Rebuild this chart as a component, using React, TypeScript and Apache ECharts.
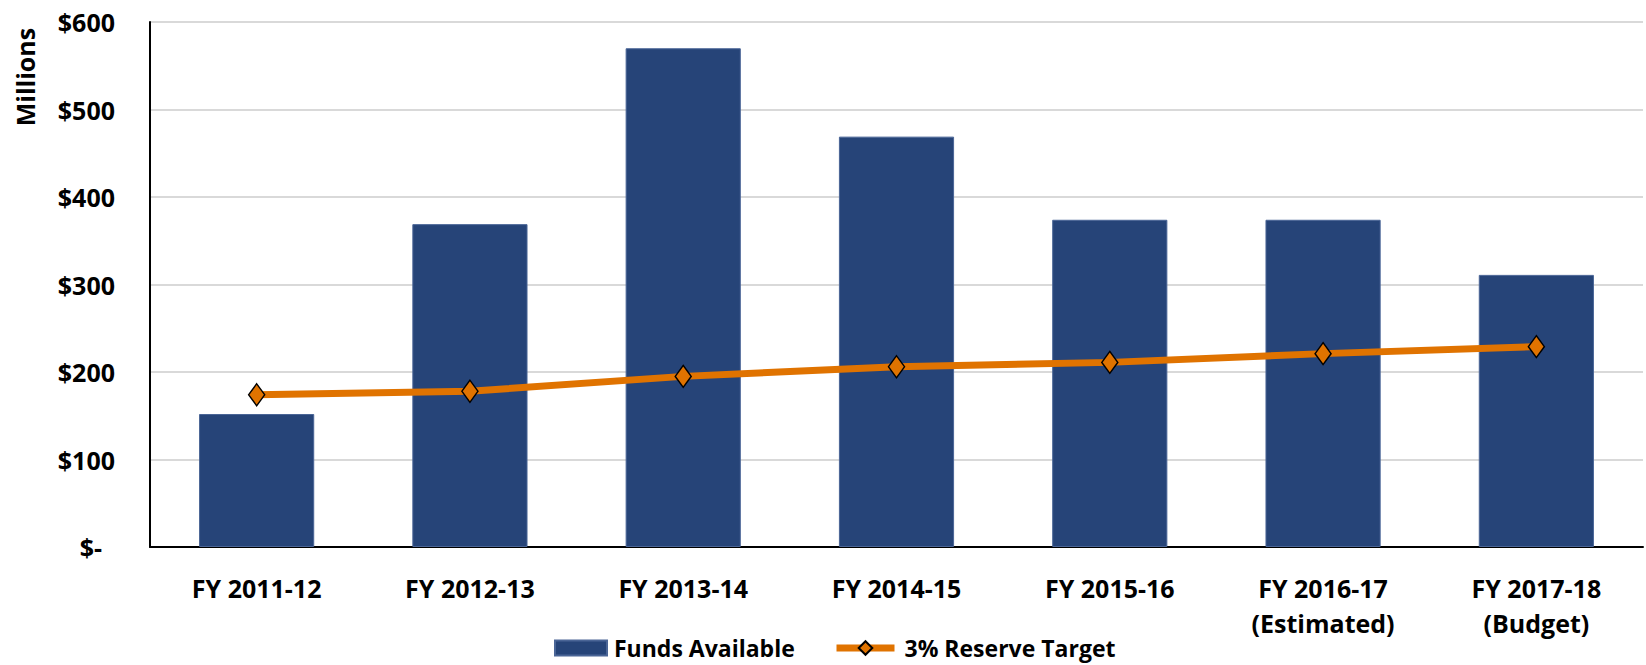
import React, { useEffect, useRef } from "react";
import * as echarts from "echarts";

const categories = [
  "FY 2011-12",
  "FY 2012-13",
  "FY 2013-14",
  "FY 2014-15",
  "FY 2015-16",
  "FY 2016-17\n(Estimated)",
  "FY 2017-18\n(Budget)",
];
const fundsAvailable = [152, 369, 570, 469, 374, 374, 311];
const reserveTarget = [174, 178, 195, 206, 211, 221, 229];
const yMin = 0;
const yMax = 600;
const yStep = 100;

const FONT = "'Open Sans', 'Liberation Sans', sans-serif";

const legendText = { fontSize: 23, fontWeight: "bold", color: "#000", fontFamily: FONT, lineHeight: 26 };

export default function App() {
  const ref = useRef<HTMLDivElement>(null);
  useEffect(() => {
    document.body.style.margin = "0";
    const chart = echarts.init(ref.current!, null, { renderer: "svg" });
    chart.setOption({
      animation: false,
      textStyle: { fontFamily: FONT },
      grid: { left: 150, right: 3, top: 22, bottom: 118 },
      legend: [
        {
          left: 554,
          top: 635,
          padding: 0,
          itemWidth: 52,
          itemHeight: 15,
          textStyle: { ...legendText, padding: [0, 0, 0, 2] },
          data: [{ name: "Funds Available", icon: "rect" }],
        },
        {
          left: 833,
          top: 635,
          padding: 0,
          itemWidth: 58,
          itemHeight: 17,
          textStyle: { ...legendText, padding: [0, 0, 0, 5] },
          lineStyle: { width: 7 },
          data: [{ name: "3% Reserve Target" }],
        },
      ],
      graphic: [
        {
          type: "text",
          x: 25,
          y: 77,
          rotation: Math.PI / 2,
          style: {
            text: "Millions",
            fontSize: 25,
            fontWeight: "bold",
            fontFamily: FONT,
            fill: "#000",
            align: "center",
            verticalAlign: "middle",
          },
        },
      ],
      xAxis: {
        type: "category",
        data: categories,
        axisTick: { show: false },
        axisLine: { lineStyle: { color: "#000", width: 2 } },
        axisLabel: {
          margin: 23,
          fontSize: 25,
          fontWeight: "bold",
          color: "#000",
          lineHeight: 35,
          fontFamily: FONT,
          interval: 0,
        },
      },
      yAxis: {
        type: "value",
        min: yMin,
        max: yMax,
        interval: yStep,
        axisLine: { show: true, lineStyle: { color: "#000", width: 2 } },
        axisTick: { show: false },
        splitLine: { lineStyle: { color: "#d9d9d9", width: 2 } },
        axisLabel: {
          margin: 35,
          fontSize: 25,
          fontWeight: "bold",
          color: "#000",
          fontFamily: FONT,
          formatter: (v: number) => (v === 0 ? "{z|$-}" : "$" + v),
          rich: {
            z: { fontSize: 25, fontWeight: "bold", color: "#000", fontFamily: FONT, padding: [0, 13, 0, 0] },
          },
        },
      },
      series: [
        {
          name: "Funds Available",
          type: "bar",
          data: fundsAvailable,
          barCategoryGap: "46%",
          itemStyle: { color: "#264478", borderColor: "#4a6596", borderWidth: 1 },
        },
        {
          name: "3% Reserve Target",
          type: "line",
          data: reserveTarget,
          z: 5,
          symbol: "diamond",
          symbolSize: [16, 22],
          lineStyle: { color: "#E07300", width: 7 },
          itemStyle: { color: "#E07300", borderColor: "#000", borderWidth: 1.5 },
        },
      ],
    });
    return () => chart.dispose();
  }, []);
  return <div ref={ref} style={{ width: 1646, height: 665 }} />;
}
